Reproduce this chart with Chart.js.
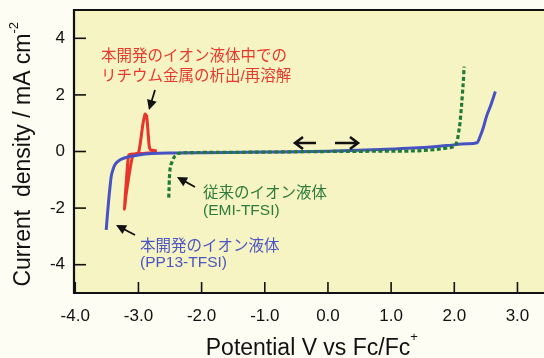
<!DOCTYPE html>
<html>
<head>
<meta charset="utf-8">
<script src="https://cdn.jsdelivr.net/npm/chart.js@4.4.0/dist/chart.umd.min.js"></script>
<style>
  html, body { margin: 0; padding: 0; background: #fdfdf4; }
  #wrap { width: 544px; height: 358px; }
</style>
</head>
<body>
<div id="wrap"><canvas id="cv"></canvas></div>
<script>
// tick labels
var xTicks = [-4, -3, -2, -1, 0, 1, 2, 3];
var yTicks = [-4, -2, 0, 2, 4];

// PP13-TFSI (blue, solid)
var ppX = [-3.51, -3.49, -3.47, -3.45, -3.43, -3.40, -3.37, -3.32, -3.26, -3.16, -3.0, -2.79, -2.42, -2.0, -1.0, 0.0, 0.83, 1.35, 1.88, 2.2, 2.36, 2.41, 2.46, 2.51, 2.58, 2.65];
var ppY = [-2.77, -2.2, -1.69, -1.25, -0.87, -0.62, -0.46, -0.34, -0.26, -0.19, -0.12, -0.07, -0.05, -0.04, -0.02, 0.01, 0.07, 0.12, 0.21, 0.27, 0.31, 0.54, 0.85, 1.24, 1.65, 2.12];

// EMI-TFSI (green, dotted)
var emiX = [-2.52, -2.515, -2.51, -2.50, -2.47, -2.44, -2.40, -2.37, -2.2, -1.5, -1.0, 0.0, 0.83, 1.35, 1.7, 1.9, 2.01, 2.05, 2.07, 2.09, 2.11, 2.13, 2.145, 2.155];
var emiY = [-1.63, -1.3, -0.95, -0.63, -0.38, -0.22, -0.12, -0.07, -0.04, -0.03, -0.02, 0.0, 0.01, 0.02, 0.07, 0.13, 0.21, 0.42, 0.7, 1.01, 1.5, 2.07, 2.55, 3.0];

// Li deposition / dissolution in PP13-TFSI (red)
var liX = [-2.71, -2.8, -2.95, -3.08, -3.15, -3.17, -3.19, -3.21, -3.22, -3.2, -3.16, -3.12, -3.09, -3.05, -3.0, -2.97, -2.93, -2.895, -2.87, -2.85, -2.83, -2.81, -2.76, -2.71];
var liY = [0.02, -0.04, -0.07, -0.09, -0.12, -0.4, -1.0, -1.6, -2.04, -1.6, -1.0, -0.45, -0.15, -0.08, -0.05, 0.3, 0.95, 1.32, 1.25, 0.75, 0.2, 0.06, 0.04, 0.02];

function pts(xs, ys) {
  return xs.map(function (x, i) { return { x: x, y: ys[i] }; });
}

var FONT = '"Liberation Sans", Arial, sans-serif';
var JFONT = '"Liberation Sans", "Noto Sans CJK JP", sans-serif';

function arrow(ctx, x1, y1, x2, y2) {
  var a = Math.atan2(y2 - y1, x2 - x1);
  var h = 10, w = 5;
  ctx.beginPath();
  ctx.moveTo(x1, y1);
  ctx.lineTo(x2 - Math.cos(a) * h * 0.8, y2 - Math.sin(a) * h * 0.8);
  ctx.lineWidth = 1.8;
  ctx.stroke();
  ctx.beginPath();
  ctx.moveTo(x2, y2);
  ctx.lineTo(x2 - Math.cos(a) * h - Math.sin(a) * w, y2 - Math.sin(a) * h + Math.cos(a) * w);
  ctx.lineTo(x2 - Math.cos(a) * h + Math.sin(a) * w, y2 - Math.sin(a) * h - Math.cos(a) * w);
  ctx.closePath();
  ctx.fill();
}

function chevron(ctx, x1, y, x2) {
  var d = x2 > x1 ? 1 : -1;
  ctx.lineWidth = 2.6;
  ctx.beginPath();
  ctx.moveTo(x1, y);
  ctx.lineTo(x2, y);
  ctx.moveTo(x2 - d * 8, y - 6);
  ctx.lineTo(x2, y);
  ctx.lineTo(x2 - d * 8, y + 6);
  ctx.stroke();
}

var decor = {
  id: 'decor',
  beforeDraw: function (chart) {
    var c = chart.ctx, a = chart.chartArea;
    c.save();
    c.fillStyle = '#f6f4c2';
    c.fillRect(a.left, a.top, a.right - a.left, a.bottom - a.top);
    c.restore();
  },
  afterDraw: function (chart) {
    var c = chart.ctx, a = chart.chartArea;
    var xs = chart.scales.x, ys = chart.scales.y;
    c.save();
    c.strokeStyle = '#111';
    c.fillStyle = '#111';
    // frame
    c.lineWidth = 2.2;
    c.beginPath();
    c.moveTo(a.right, a.top);
    c.lineTo(a.left, a.top);
    c.lineTo(a.left, a.bottom);
    c.lineTo(a.right, a.bottom);
    c.stroke();
    // inward ticks
    c.lineWidth = 1.6;
    xTicks.forEach(function (v) {
      var px = xs.getPixelForValue(v);
      c.beginPath(); c.moveTo(px, a.bottom); c.lineTo(px, a.bottom - 11); c.stroke();
    });
    yTicks.forEach(function (v) {
      var py = ys.getPixelForValue(v);
      c.beginPath(); c.moveTo(a.left, py); c.lineTo(a.left + 12, py); c.stroke();
    });

    // axis titles
    c.textBaseline = 'alphabetic';
    c.textAlign = 'left';
    c.font = '23px ' + FONT;
    var t1 = 'Potential V vs Fc/Fc';
    var w1 = c.measureText(t1).width;
    var x0 = 308 - w1 / 2;
    c.fillText(t1, x0, 355);
    c.font = '13px ' + FONT;
    c.fillText('+', x0 + w1, 341);

    c.save();
    c.translate(30, 160);
    c.rotate(-Math.PI / 2);
    c.font = '23px ' + FONT;
    var t2 = 'Current  density / mA cm';
    var w2 = c.measureText(t2).width;
    c.fillText(t2, -w2 / 2, 0);
    c.font = '13px ' + FONT;
    c.fillText('-2', w2 / 2, -12);
    c.restore();

    // annotations
    c.font = '15.5px ' + JFONT;
    c.textBaseline = 'middle';
    c.fillStyle = '#e63a2e';
    c.fillText('本開発のイオン液体中での', 101, 57);
    c.fillText('リチウム金属の析出/再溶解', 101, 77);
    c.fillStyle = '#2d7a3c';
    c.fillText('従来のイオン液体', 203, 194);
    c.fillText('(EMI-TFSI)', 203, 211);
    c.fillStyle = '#4c55c4';
    c.fillText('本開発のイオン液体', 140, 247);
    c.fillText('(PP13-TFSI)', 140, 263);

    c.fillStyle = '#111';
    arrow(c, 155, 90, 149, 110);
    arrow(c, 195, 187, 177, 177);
    arrow(c, 135, 235, 116, 225);
    chevron(c, 316, 143, 295);
    chevron(c, 335, 143, 358);
    c.restore();
  }
};

new Chart(document.getElementById('cv'), {
  type: 'scatter',
  data: {
    datasets: [
      {
        label: 'EMI-TFSI',
        data: pts(emiX, emiY),
        showLine: true,
        borderColor: '#1f7a3a',
        borderWidth: 3.2,
        borderDash: [4, 2.5],
        pointRadius: 0,
        cubicInterpolationMode: 'monotone'
      },
      {
        label: 'PP13-TFSI',
        data: pts(ppX, ppY),
        showLine: true,
        borderColor: '#4752c4',
        borderWidth: 3,
        pointRadius: 0,
        cubicInterpolationMode: 'monotone'
      },
      {
        label: 'Li',
        data: pts(liX, liY),
        showLine: true,
        borderColor: '#e8342a',
        borderWidth: 3,
        pointRadius: 0,
        tension: 0.15
      }
    ]
  },
  options: {
    responsive: true,
    maintainAspectRatio: false,
    animation: false,
    layout: { padding: { top: 10, right: 0, left: 0, bottom: 0 } },
    plugins: { legend: { display: false }, tooltip: { enabled: false } },
    scales: {
      x: {
        type: 'linear',
        min: -4.02,
        max: 3.42,
        grid: { display: false, drawTicks: false },
        border: { display: false },
        afterBuildTicks: function (s) { s.ticks = xTicks.map(function (v) { return { value: v }; }); },
        afterFit: function (s) { s.height = 65; s.paddingLeft = 0; s.paddingRight = 0; },
        ticks: {
          color: '#111',
          padding: 13,
          font: { family: FONT, size: 17 },
          callback: function (v) { return Number(v).toFixed(1); }
        }
      },
      y: {
        min: -5,
        max: 5,
        grid: { display: false, drawTicks: false },
        border: { display: false },
        afterBuildTicks: function (s) { s.ticks = yTicks.map(function (v) { return { value: v }; }); },
        afterFit: function (s) { s.width = 74; s.paddingTop = 0; s.paddingBottom = 0; },
        ticks: {
          color: '#111',
          padding: 9,
          font: { family: FONT, size: 17 },
          callback: function (v) { return String(v); }
        }
      }
    }
  },
  plugins: [decor]
});
</script>
</body>
</html>
